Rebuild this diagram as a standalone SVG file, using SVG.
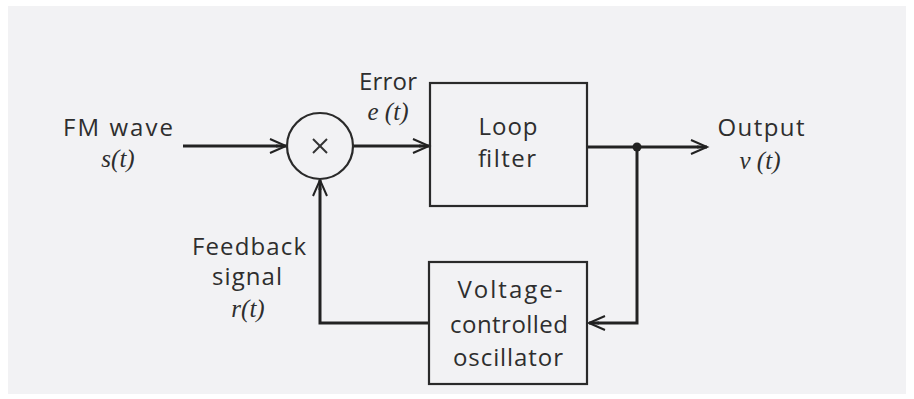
<svg xmlns="http://www.w3.org/2000/svg" width="914" height="399" viewBox="0 0 914 399">
  <style>
    .lbl { font-family: "Open Sans", "DejaVu Sans", sans-serif; font-size: 24px; fill: #2e2e2e; text-anchor: middle; }
    .math { font-family: "Liberation Serif", "DejaVu Serif", serif; font-style: italic; font-size: 25px; fill: #2e2e2e; text-anchor: middle; }
    .box { fill: none; stroke: #2a2a2a; stroke-width: 2.2; }
    .wire { fill: none; stroke: #222; stroke-width: 3; }
  </style>
  <defs>
    <marker id="arr" markerUnits="userSpaceOnUse" markerWidth="20" markerHeight="18" viewBox="-17 -9 19 18" refX="0" refY="0" orient="auto">
      <path d="M-16,-7 L0,0 L-16,7" fill="none" stroke="#222" stroke-width="2"/>
      <path d="M-10,-1.6 L0,0 L-10,1.6 Z" fill="#222"/>
    </marker>
  </defs>
  <rect x="0" y="0" width="914" height="399" fill="#ffffff"/>
  <rect x="8" y="6" width="898" height="388" fill="#f2f2f4"/>

  <g id="connectors">
    <path class="wire" d="M183,146 H286" marker-end="url(#arr)"/>
    <path class="wire" d="M353,146 H429" marker-end="url(#arr)"/>
    <path class="wire" d="M587,147 H707" marker-end="url(#arr)"/>
    <path class="wire" d="M637,147 V323 H589" marker-end="url(#arr)"/>
    <path class="wire" d="M429,323 H320 V180" marker-end="url(#arr)"/>
    <circle cx="637" cy="147" r="4.5" fill="#222"/>
  </g>

  <g id="input-label">
    <text class="lbl" x="118" y="136" textLength="110" lengthAdjust="spacing">FM wave</text>
    <text class="math" x="118" y="167">s(t)</text>
  </g>

  <g id="mixer">
    <circle cx="320" cy="146" r="33" fill="none" stroke="#2a2a2a" stroke-width="2.2"/>
    <line x1="313" y1="139" x2="327" y2="153" stroke="#333" stroke-width="2"/>
    <line x1="327" y1="139" x2="313" y2="153" stroke="#333" stroke-width="2"/>
  </g>

  <g id="error-label">
    <text class="lbl" x="388" y="90" textLength="58" lengthAdjust="spacing">Error</text>
    <text class="math" x="388" y="120">e (t)</text>
  </g>

  <g id="loop-filter">
    <rect class="box" x="430" y="83" width="157" height="123"/>
    <text class="lbl" x="508" y="135" textLength="59" lengthAdjust="spacing">Loop</text>
    <text class="lbl" x="507" y="167" textLength="58" lengthAdjust="spacing">filter</text>
  </g>

  <g id="output-label">
    <text class="lbl" x="761" y="136" textLength="87" lengthAdjust="spacing">Output</text>
    <text class="math" x="760" y="169">v (t)</text>
  </g>

  <g id="feedback-label">
    <text class="lbl" x="249" y="255" textLength="114" lengthAdjust="spacing">Feedback</text>
    <text class="lbl" x="247" y="285" textLength="70" lengthAdjust="spacing">signal</text>
    <text class="math" x="248" y="317">r(t)</text>
  </g>

  <g id="vco">
    <rect class="box" x="429" y="262" width="158" height="122"/>
    <text class="lbl" x="510" y="298" textLength="105" lengthAdjust="spacing">Voltage-</text>
    <text class="lbl" x="509" y="333" textLength="118" lengthAdjust="spacing">controlled</text>
    <text class="lbl" x="508" y="366" textLength="110" lengthAdjust="spacing">oscillator</text>
  </g>
</svg>
